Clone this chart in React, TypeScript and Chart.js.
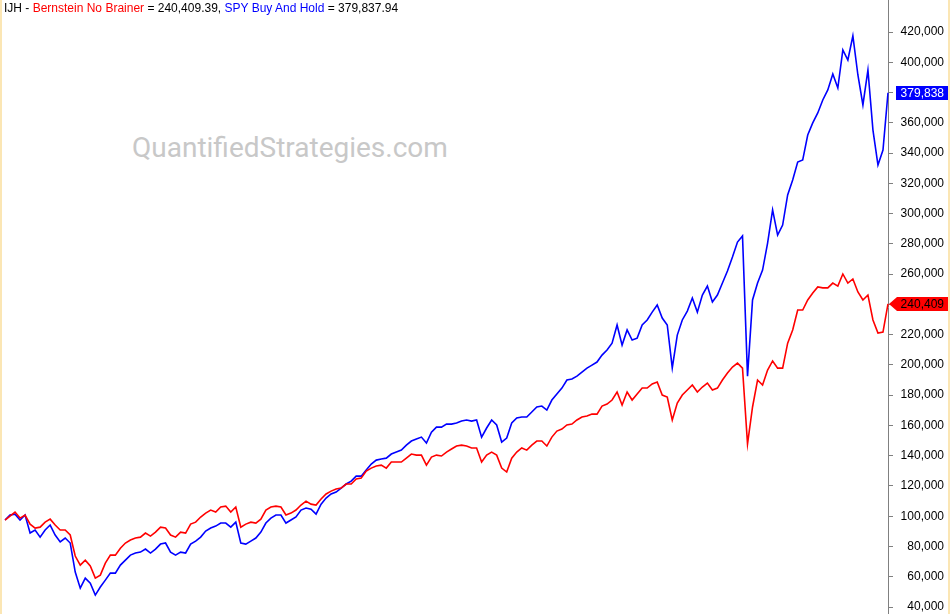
import React, { useEffect, useRef } from "react";
import { Chart, registerables } from "chart.js";

Chart.register(...registerables);

const bernsteinNoBrainer = [
  97500, 100100, 102800, 98800, 100800, 94800, 92200, 92800, 96100, 98100,
  94200, 90900, 90900, 87600, 73700, 67700, 71000, 67100, 59100, 61100,
  69000, 74300, 74300, 78900, 82300, 84300, 85600, 86200, 88900, 86900,
  89500, 92800, 92200, 87600, 86200, 89500, 88900, 94800, 96100, 99500,
  102100, 104100, 102800, 106100, 106700, 102800, 106100, 92800, 94800, 96100,
  95500, 98100, 104100, 106100, 106700, 106100, 100800, 102100, 104100, 107400,
  110000, 108000, 107400, 111400, 114700, 116600, 118000, 118600, 121300, 121300,
  124600, 125200, 129900, 131800, 133200, 133800, 131800, 135800, 135800, 135800,
  138400, 141100, 140400, 140400, 133800, 139100, 140400, 139800, 142400, 144400,
  146400, 147000, 146400, 145100, 145100, 135800, 140400, 142400, 140400, 131800,
  129200, 138400, 142400, 145100, 143700, 147000, 149700, 149700, 146400, 152300,
  156300, 157600, 160300, 160900, 163600, 165600, 166200, 167500, 167500, 172800,
  174100, 176800, 182100, 173500, 182100, 176800, 180800, 184700, 184700, 187400,
  188700, 180100, 178800, 163600, 174800, 180100, 183400, 186700, 182100, 185400,
  188000, 183400, 184700, 190000, 194600, 198600, 201200, 197900, 147700, 172200,
  190000, 186700, 196600, 202600, 197900, 197900, 214400, 223100, 236300, 236300,
  242900, 247500, 251500, 250900, 250900, 254100, 252100, 260100, 254100, 256800,
  248200, 242900, 246200, 229700, 221100, 221700, 240409.39,
];

const spyBuyAndHold = [
  97500, 100800, 101400, 97500, 100800, 88900, 90900, 86200, 90900, 94200,
  87600, 83000, 85600, 82300, 63100, 52500, 59100, 55800, 47900, 53200,
  57800, 62400, 62400, 67700, 71000, 74300, 75700, 76300, 78300, 75700,
  78300, 81600, 82300, 76300, 74300, 76300, 75700, 81600, 83600, 86200,
  90200, 92200, 93500, 95500, 95500, 92800, 96100, 82300, 81600, 83600,
  85600, 89500, 95500, 98800, 100800, 100800, 95500, 97500, 99500, 104100,
  105400, 104700, 101400, 108000, 112000, 114700, 116000, 118600, 121300, 123200,
  126500, 126500, 130500, 134500, 137100, 137800, 138400, 141100, 142400, 143700,
  147000, 149700, 151000, 152300, 148400, 155600, 158900, 158900, 160900, 160900,
  161600, 162900, 163600, 162900, 163600, 152300, 158300, 163600, 160300, 149000,
  151700, 161600, 164900, 165600, 165600, 168900, 172200, 172800, 170200, 176800,
  180800, 184700, 190000, 190700, 192600, 195300, 197900, 199900, 201900, 206500,
  209800, 214400, 226400, 213100, 223100, 216400, 217700, 226400, 229700, 234900,
  239600, 231000, 226400, 198000, 219700, 229700, 235600, 244200, 234900, 246200,
  252100, 241600, 246200, 254100, 262100, 271300, 281200, 285200, 192600, 242900,
  254100, 262700, 280500, 302400, 285800, 292400, 312300, 322200, 334100, 335400,
  351900, 359900, 366500, 375100, 381700, 392200, 383000, 408100, 401500, 417400,
  391600, 371800, 394900, 355200, 332100, 342000, 379837.94,
];

const tickValues = [
  40000, 60000, 80000, 100000, 120000, 140000, 160000, 180000, 200000, 220000,
  240000, 260000, 280000, 300000, 320000, 340000, 360000, 380000, 400000, 420000,
];

const seriesNames = ["Bernstein No Brainer", "SPY Buy And Hold"];
const seriesColors = ["#ff0000", "#0000ff"];

function buildDates(n: number): string[] {
  const out: string[] = [];
  const start = new Date(2007, 8, 1).getTime();
  const end = new Date(2022, 7, 15).getTime();
  for (let i = 0; i < n; i++) {
    const d = new Date(start + ((end - start) * i) / (n - 1));
    out.push(d.toISOString().slice(0, 10));
  }
  return out;
}

const dates = buildDates(spyBuyAndHold.length);

const fmt0 = (v: number) => Math.round(v).toLocaleString("en-US");
const fmt2 = (v: number) =>
  v.toLocaleString("en-US", { minimumFractionDigits: 2, maximumFractionDigits: 2 });

const endLabels = {
  id: "endLabels",
  afterDraw(chart: any) {
    const ctx = chart.ctx;
    const y = chart.scales.y;
    const right = chart.width - 2;
    ctx.save();
    ctx.font = "12px 'Liberation Sans', Arial, sans-serif";
    ctx.textBaseline = "middle";
    chart.data.datasets.forEach((ds: any, i: number) => {
      const last = ds.data[ds.data.length - 1];
      const py = Math.round(y.getPixelForValue(last));
      const h = 14;
      const boxLeft = y.left + 9;
      ctx.fillStyle = ds.borderColor;
      ctx.beginPath();
      if (i === 0) {
        ctx.moveTo(y.left + 1, py);
        ctx.lineTo(boxLeft, py - h / 2);
        ctx.lineTo(right, py - h / 2);
        ctx.lineTo(right, py + h / 2);
        ctx.lineTo(boxLeft, py + h / 2);
        ctx.closePath();
      } else {
        ctx.rect(y.left + 8, py - h / 2, right - (y.left + 8), h);
      }
      ctx.fill();
      ctx.fillStyle = i === 0 ? "#000000" : "#ffffff";
      ctx.textAlign = "right";
      ctx.fillText(fmt0(last), y.right, py + 0.5);
    });
    ctx.restore();
  },
};

export default function App() {
  const canvasRef = useRef<HTMLCanvasElement | null>(null);

  useEffect(() => {
    document.body.style.margin = "0";
    const canvas = canvasRef.current;
    if (!canvas) return;
    const chart = new Chart(canvas, {
      type: "line",
      data: {
        labels: dates,
        datasets: [
          {
            label: seriesNames[0],
            data: bernsteinNoBrainer,
            borderColor: seriesColors[0],
            backgroundColor: seriesColors[0],
            borderWidth: 1.6,
            pointRadius: 0,
            tension: 0,
          },
          {
            label: seriesNames[1],
            data: spyBuyAndHold,
            borderColor: seriesColors[1],
            backgroundColor: seriesColors[1],
            borderWidth: 1.6,
            pointRadius: 0,
            tension: 0,
          },
        ],
      },
      options: {
        animation: false,
        responsive: false,
        devicePixelRatio: 1,
        layout: { padding: { left: 5, right: 6, top: 0, bottom: 0 } },
        plugins: {
          legend: { display: false },
          tooltip: { enabled: false },
          title: { display: false },
        },
        scales: {
          x: { display: false },
          y: {
            position: "right",
            min: 35400,
            max: 441150,
            afterFit: (scale: any) => {
              scale.width = 56;
              scale.paddingTop = 0;
              scale.paddingBottom = 0;
            },
            afterBuildTicks: (scale: any) => {
              scale.ticks = tickValues.map((v) => ({ value: v }));
            },
            border: { display: true, color: "#808080", width: 1 },
            grid: {
              drawOnChartArea: false,
              drawTicks: true,
              tickLength: 5,
              color: "#808080",
            },
            ticks: {
              crossAlign: "far",
              padding: 0,
              color: "#000000",
              font: { family: "'Liberation Sans', Arial, sans-serif", size: 12 },
              callback: (v: any) => fmt0(Number(v)),
            },
          },
        },
      },
      plugins: [endLabels],
    });
    return () => chart.destroy();
  }, []);

  const lastRed = bernsteinNoBrainer[bernsteinNoBrainer.length - 1];
  const lastBlue = spyBuyAndHold[spyBuyAndHold.length - 1];

  return (
    <div style={{ position: "relative", width: 950, height: 614, background: "#ffffff", overflow: "hidden" }}>
      <div
        style={{
          position: "absolute",
          left: 132,
          top: 134,
          fontFamily: "Roboto, sans-serif",
          fontSize: 28,
          lineHeight: "28px",
          color: "#c8c8c8",
          whiteSpace: "nowrap",
          pointerEvents: "none",
        }}
      >
        QuantifiedStrategies.com
      </div>
      <canvas ref={canvasRef} width={950} height={614} style={{ position: "absolute", left: 0, top: 0 }} />
      <div
        style={{
          position: "absolute",
          left: 4,
          top: 1,
          fontFamily: "'Liberation Sans', Arial, sans-serif",
          fontSize: 12,
          lineHeight: "14px",
          color: "#000000",
          whiteSpace: "nowrap",
        }}
      >
        IJH - <span style={{ color: seriesColors[0] }}>{seriesNames[0]}</span> = {fmt2(lastRed)},{" "}
        <span style={{ color: seriesColors[1] }}>{seriesNames[1]}</span> = {fmt2(lastBlue)}
      </div>
      <div style={{ position: "absolute", left: 0, top: 0, width: 2, height: 614, background: "#fbe6b4" }} />
      <div style={{ position: "absolute", right: 0, top: 0, width: 2, height: 614, background: "#fbe6b4" }} />
    </div>
  );
}
